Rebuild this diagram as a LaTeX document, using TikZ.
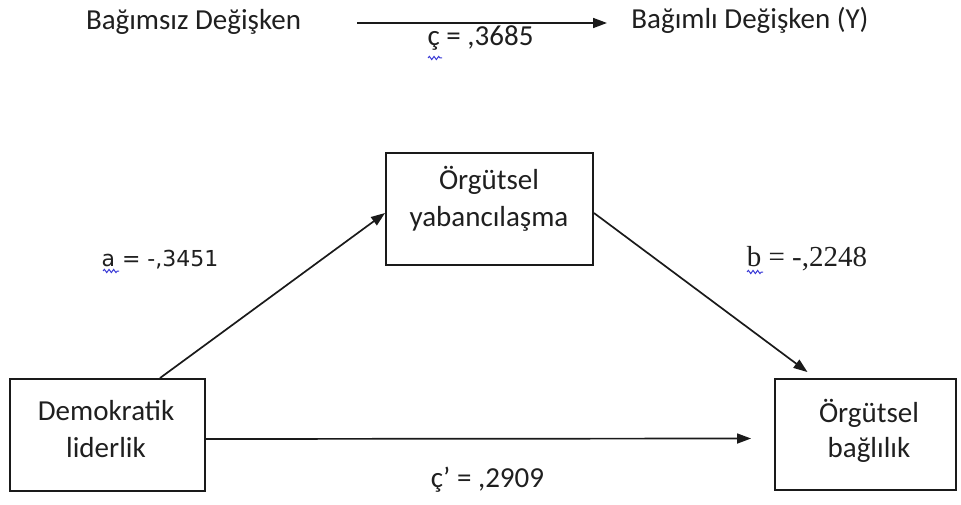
\documentclass[tikz,border=0pt]{standalone}
\usepackage{fontspec}
\setmainfont{Carlito}
\newfontfamily\plainsans{DejaVu Sans}
\newfontfamily\plainserif{Liberation Serif}
\usetikzlibrary{arrows.meta,decorations.pathmorphing}

\definecolor{txt}{HTML}{1F1F1F}
\definecolor{frame}{HTML}{1A1A1A}
\definecolor{spellblue}{HTML}{3A3AD6}

\begin{document}
\begin{tikzpicture}[x=1pt,y=-1pt,
  varbox/.style={draw=frame, line width=1.9pt, inner sep=0pt},
  boxtext/.style={text=txt, inner sep=0pt, anchor=base, font=\fontsize{29}{37}\selectfont},
  coef/.style={text=txt, inner sep=0pt, anchor=base, font=\fontsize{29}{37}\selectfont},
  link/.style={draw=frame, line width=1.7pt, -{Triangle[length=14pt,width=10pt]}},
  spell/.style={draw=spellblue, line width=1pt, decorate,
    decoration={snake, amplitude=1.6pt, segment length=4.6pt}}
]
\useasboundingbox (0,0) rectangle (961,505);

% total effect, drawn on top
\node[boxtext] (indep) at (193.5,30) {Bağımsız Değişken};
\node[boxtext] (dep) at (750,29) {Bağımlı Değişken (Y)};
\coordinate (topL) at (357,23);
\coordinate (topR) at (607,23);
\draw[link] (topL) -- (topR);
\node[coef] (ctot) at (480.5,46) {ç = ,3685};
\draw[spell] (428,58) -- (442,58);

% variable boxes
\node[varbox, minimum width=207pt, minimum height=112pt] (med) at (489.5,209) {};
\node[varbox, minimum width=195pt, minimum height=112pt] (demo) at (107.5,435) {};
\node[varbox, minimum width=181pt, minimum height=111pt] (outc) at (865.5,434.5) {};

\node[boxtext] (med1) at (489,190) {Örgütsel};
\node[boxtext] (med2) at (489,226) {yabancılaşma};
\node[boxtext] (demo1) at (106,420) {Demokratik};
\node[boxtext] (demo2) at (106,457) {liderlik};
\node[boxtext] (outc1) at (869,422) {Örgütsel};
\node[boxtext] (outc2) at (869,457) {bağlılık};

% mediation paths
\draw[link] ([xshift=52.5pt]demo.north) -- ([yshift=-4pt]med.west);
\draw[link] ([yshift=-4pt]med.east) -- ([xshift=-58pt,yshift=6pt]outc.north);
\draw[link] ([yshift=-4pt]demo.east) -- ([xshift=-23pt,yshift=-4pt]outc.west);

% path coefficients
\node[coef, font=\plainsans\fontsize{22}{28}\selectfont] (pa) at (160,266) {a = -,3451};
\draw[spell] (103,271) -- (119,271);
\node[coef, font=\plainserif\fontsize{29}{36}\selectfont] (pb) at (807,266) {b = -,2248};
\draw[spell] (747,272) -- (763,272);
\node[coef] (cdir) at (487.5,487) {ç’ = ,2909};
\end{tikzpicture}
\end{document}
